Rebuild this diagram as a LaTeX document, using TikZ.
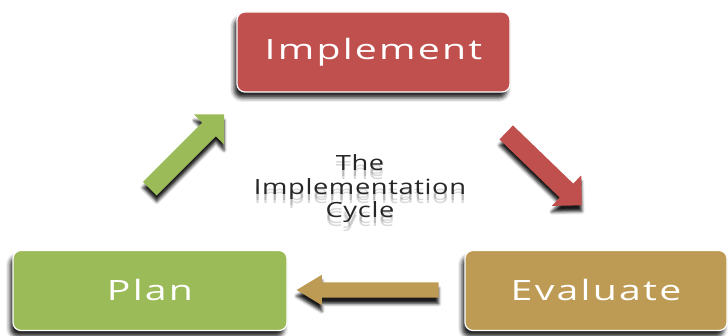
\documentclass[tikz,border=0pt]{standalone}
\usepackage{fontspec}
\setmainfont{Open Sans}
\newfontfamily\stagefont[FakeStretch=1.4,LetterSpace=8]{Open Sans}
\newfontfamily\cyclefont[FakeStretch=1.3,LetterSpace=3]{Open Sans}
\usetikzlibrary{shapes.arrows,shadows.blur}

\definecolor{implred}{RGB}{192,80,77}
\definecolor{plangreen}{RGB}{155,187,89}
\definecolor{evaltan}{RGB}{190,155,85}

\begin{document}
\begin{tikzpicture}[x=1pt,y=-1pt,
    stage/.style={rounded corners=8pt, draw=white, line width=1.2pt,
      minimum width=273pt, minimum height=80pt, text=white,
      font=\stagefont\fontsize{28}{34}\selectfont,
      blur shadow={shadow xshift=-3pt, shadow yshift=-6pt,
        shadow blur radius=4pt, shadow opacity=85}},
    bigarrow/.style={single arrow, inner xsep=0pt, inner ysep=9.5pt,
      single arrow head extend=11.5pt, single arrow tip angle=90,
      minimum height=105pt, fill=#1,
      blur shadow={shadow xshift=0pt, shadow yshift=-6pt,
        shadow blur radius=3pt, shadow opacity=90}},
    cycletext/.style={align=center, font=\cyclefont\fontsize{21}{23.5}\selectfont}
  ]
  \useasboundingbox (0,0) rectangle (728,336);

  \node (implement) at (373.5,52) [stage, fill=implred] {Implement};
  \node (plan) at (150,290.5) [stage, fill=plangreen, minimum width=274pt] {Plan};
  \node (evaluate) at (596,290.5) [stage, fill=evaltan, minimum width=262pt] {Evaluate};

  \node (toimpl) at (183.5,155) [bigarrow=plangreen, rotate=45] {};
  \node (toeval) at (540.5,165.5) [bigarrow=implred, rotate=-44] {};
  \node (toplan) at (374,290) [bigarrow=evaltan, rotate=180, minimum height=142pt,
    inner ysep=7.5pt, single arrow head extend=7.5pt, single arrow tip angle=62] {};

  % soft shadow under the middle caption
  \foreach \dy in {6,9}
    \node (capshadow\dy) at (360,189+\dy) [cycletext, text=black, opacity=0.15]
      {The\\Implementation\\Cycle};
  \node (caption) at (360,189) [cycletext, text=black!85] {The\\Implementation\\Cycle};
\end{tikzpicture}
\end{document}
